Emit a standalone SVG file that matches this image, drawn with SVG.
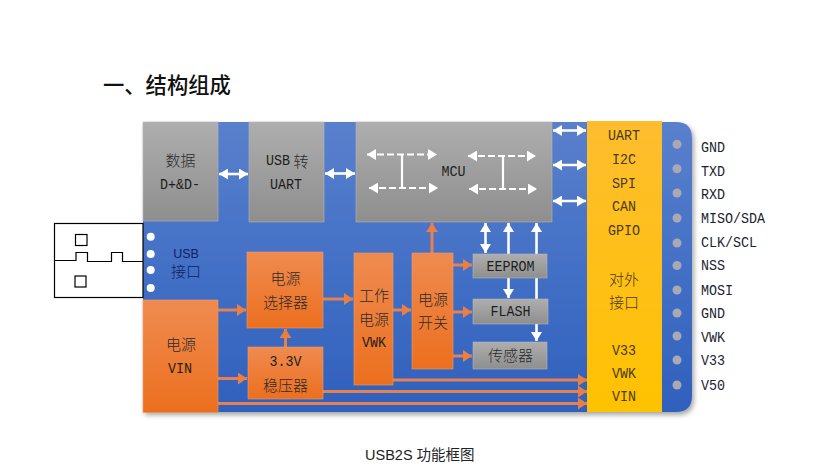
<svg xmlns="http://www.w3.org/2000/svg" width="835" height="468" viewBox="0 0 835 468">
<style>
.m{font-family:"Liberation Mono",monospace;font-size:15px;fill:#1d1d1d;text-anchor:middle;dominant-baseline:central;transform-box:fill-box;transform-origin:center;transform:scaleX(.89)}
.c{font-family:"Noto Sans CJK SC",sans-serif;font-size:15px;font-weight:300;fill:#2b2b2b;text-anchor:middle;dominant-baseline:central}
.l{text-anchor:start;fill:#1a2430;transform-origin:left center}
.y{fill:#4b3a10}
.o{fill:url(#og);stroke:#ee9a66;stroke-width:.6}
.g{fill:url(#gg);stroke:#b4b4b4;stroke-width:.6}
.oa{stroke:#e58050;stroke-width:3;fill:none;marker-end:url(#ho)}
.wa{stroke:#fff;stroke-width:2.6;fill:none;marker-end:url(#hw)}
.wb{stroke:#fff;stroke-width:2.6;fill:none;marker-end:url(#hw);marker-start:url(#hw)}
.wd{stroke:#fff;stroke-width:2.2;stroke-dasharray:7 3;fill:none;marker-end:url(#hw);marker-start:url(#hw)}
.ws{stroke:#fff;stroke-width:2.2;fill:none}
.k{fill:none;stroke:#000;stroke-width:1.2}
</style>
<defs>
<linearGradient id="bg" x1="0" y1="0" x2="0" y2="1"><stop offset="0" stop-color="#5a80cc"/><stop offset=".5" stop-color="#4370c6"/><stop offset="1" stop-color="#2f60bc"/></linearGradient>
<linearGradient id="og" x1="0" y1="0" x2="0" y2="1"><stop offset="0" stop-color="#ef8b50"/><stop offset="1" stop-color="#ec6f1e"/></linearGradient>
<linearGradient id="gg" x1="0" y1="0" x2="0" y2="1"><stop offset="0" stop-color="#aeaeae"/><stop offset="1" stop-color="#8e8e8e"/></linearGradient>
<linearGradient id="yg" x1="0" y1="0" x2="0" y2="1"><stop offset="0" stop-color="#fdbd2f"/><stop offset="1" stop-color="#ffc200"/></linearGradient>
<filter id="sh" x="-5%" y="-5%" width="110%" height="110%"><feDropShadow dx="2" dy="3" stdDeviation="2.5" flood-color="#000" flood-opacity=".35"/></filter>
<marker id="ho" markerUnits="userSpaceOnUse" markerWidth="10" markerHeight="12" refX="9" refY="6" orient="auto-start-reverse"><path d="M0 0L9 6L0 12Z" fill="#e97f45"/></marker>
<marker id="hw" markerUnits="userSpaceOnUse" markerWidth="10" markerHeight="11" refX="9" refY="5.5" orient="auto-start-reverse"><path d="M0 0L9 5.500L0 11Z" fill="#fff"/></marker>
</defs>
<text x="103" y="93" style="font-family:'Noto Sans CJK SC',sans-serif;font-size:21.3px;font-weight:500;fill:#111">一、结构组成</text>
<g id="board"><path d="M143 122H676Q692 122 692 138V396Q692 412 676 412H143Z" fill="url(#bg)" filter="url(#sh)"/></g>
<g id="usb-plug">
<rect class="k" x="54.500" y="223.500" width="88.500" height="74" style="fill:#fff"/>
<rect class="k" x="75.500" y="234.500" width="11.500" height="11"/>
<rect class="k" x="75" y="276" width="11" height="11"/>
<path class="k" d="M54.500 260.500H76V252.500H87.500V261.500H111.500V252.500H122.500V261.500H143"/>
</g>
<g id="usb-dots" fill="#fff"><circle cx="150.700" cy="236.700" r="4"/><circle cx="150.700" cy="254" r="4"/><circle cx="150.700" cy="270" r="4"/><circle cx="150.700" cy="288" r="4"/></g>
<g id="usb-label"><text x="186" y="254" style="font-family:'Liberation Sans',sans-serif;font-size:12.500px;fill:#0d2261;text-anchor:middle;dominant-baseline:central">USB</text><text x="186" y="270" class="c" style="fill:#0d2261">接口</text></g>
<g id="connectors">
<path class="wb" d="M219 174H248"/>
<path class="wb" d="M325 173.500H355"/>
<path class="wb" d="M553 130.500H586"/>
<path class="wb" d="M553 165H586"/>
<path class="wb" d="M553 201H586"/>
<path class="wb" d="M485.500 223V253"/>
<path class="wb" d="M508.500 223V298"/>
<path class="wb" d="M536.500 223V341"/>
<path class="oa" d="M218 310H246"/>
<path class="oa" d="M323 299H353"/>
<path class="oa" d="M393 310H411"/>
<path class="oa" d="M218 378.500H247"/>
<path class="oa" d="M285.500 347V329"/>
<path class="oa" d="M432 253V223"/>
<path class="oa" d="M453 265H472"/>
<path class="oa" d="M453 312H472"/>
<path class="oa" d="M453 356H472"/>
<path class="oa" d="M393 380H587"/>
<path class="oa" d="M323 391.500H587"/>
<path class="oa" d="M218 403.500H587"/>
</g>
<g id="data"><rect class="g" x="143" y="122" width="75" height="99"/><text class="c" x="180.500" y="159">数据</text><text class="m" x="180" y="185">D+&amp;D-</text></g>
<g id="usb-uart"><rect class="g" x="249" y="122" width="75" height="100"/><text class="m" x="278" y="161">USB</text><text class="c" x="301" y="160">转</text><text class="m" x="286" y="185">UART</text></g>
<g id="mcu"><rect class="g" x="356" y="122" width="196" height="100"/><text class="m" x="453.500" y="172">MCU</text>
<path class="wd" d="M367 154.500H437"/><path class="wd" d="M369 188H438"/><path class="ws" d="M402 154.500V188"/>
<path class="wd" d="M468 156H536"/><path class="wd" d="M469 189H537"/><path class="ws" d="M503 156V189"/>
</g>
<g id="vin"><rect class="o" x="143" y="300" width="75" height="112.500"/><text class="c" x="181" y="343">电源</text><text class="m" x="180" y="368.500">VIN</text></g>
<g id="selector"><rect class="o" x="247" y="252" width="76" height="76"/><text class="c" x="285.500" y="277">电源</text><text class="c" x="285.500" y="301">选择器</text></g>
<g id="reg"><rect class="o" x="248" y="347" width="75" height="52"/><text class="m" x="285.500" y="362">3.3V</text><text class="c" x="285.500" y="384">稳压器</text></g>
<g id="vwk"><rect class="o" x="354" y="253" width="39" height="132"/><text class="c" x="374" y="294">工作</text><text class="c" x="374" y="318">电源</text><text class="m" x="374" y="343">VWK</text></g>
<g id="switch"><rect class="o" x="412" y="253" width="41" height="116"/><text class="c" x="433" y="298">电源</text><text class="c" x="433" y="321">开关</text></g>
<g id="eeprom"><rect class="g" x="473" y="254" width="74" height="24"/><text class="m" x="510.500" y="267">EEPROM</text></g>
<g id="flash"><rect class="g" x="473" y="299" width="75" height="25"/><text class="m" x="510.500" y="312">FLASH</text></g>
<g id="sensor"><rect class="g" x="473" y="342" width="74" height="27"/><text class="c" x="510.500" y="354.500">传感器</text></g>
<g id="ports"><rect x="587" y="121" width="75" height="291" fill="url(#yg)"/>
<text class="m y" x="624" y="135.500">UART</text><text class="m y" x="624" y="159.500">I2C</text><text class="m y" x="624" y="183.500">SPI</text><text class="m y" x="624" y="207">CAN</text><text class="m y" x="624" y="230.500">GPIO</text>
<text class="c y" x="624" y="278">对外</text><text class="c y" x="624" y="301">接口</text>
<text class="m y" x="624" y="350.500">V33</text><text class="m y" x="624" y="374">VWK</text><text class="m y" x="624" y="397">VIN</text></g>
<g id="pins" fill="#a9a9b3"><circle cx="677" cy="144.300" r="4.500"/><circle cx="677" cy="168.700" r="4.500"/><circle cx="677" cy="193" r="4.500"/><circle cx="677" cy="218" r="4.500"/><circle cx="677" cy="243" r="4.500"/><circle cx="677" cy="265.500" r="4.500"/><circle cx="677" cy="290" r="4.500"/><circle cx="677" cy="313" r="4.500"/><circle cx="677" cy="336" r="4.500"/><circle cx="677" cy="360" r="4.500"/><circle cx="677" cy="385" r="4.500"/></g>
<g id="pin-labels"><text class="m l" x="701" y="148">GND</text><text class="m l" x="701" y="172">TXD</text><text class="m l" x="701" y="195">RXD</text><text class="m l" x="701" y="219">MISO/SDA</text><text class="m l" x="701" y="243">CLK/SCL</text><text class="m l" x="701" y="266">NSS</text><text class="m l" x="701" y="291">MOSI</text><text class="m l" x="701" y="314">GND</text><text class="m l" x="701" y="338">VWK</text><text class="m l" x="701" y="361">V33</text><text class="m l" x="701" y="386">V50</text></g>
<text x="365" y="460" style="font-family:'Noto Sans CJK SC',sans-serif;font-size:14.500px;fill:#222"><tspan style="font-family:'Liberation Sans',sans-serif">USB2S </tspan>功能框图</text>
</svg>
